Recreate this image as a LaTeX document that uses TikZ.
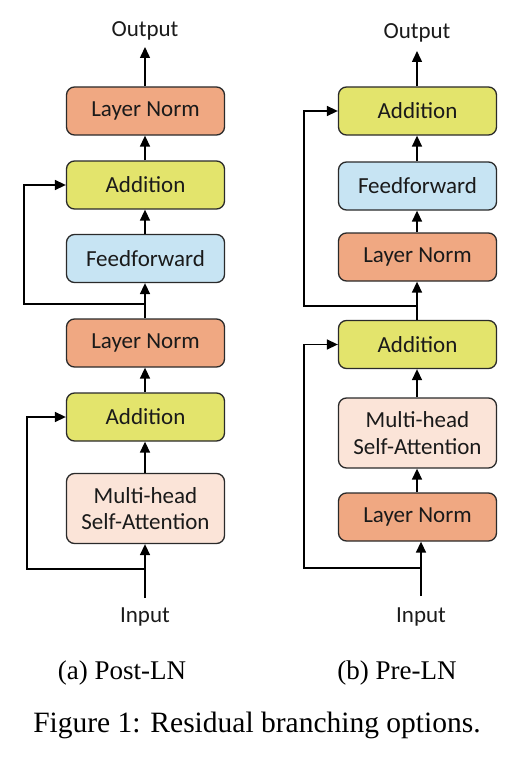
\documentclass[tikz,border=0pt]{standalone}
\usepackage{fontspec}
\setmainfont{Liberation Serif}
\newfontfamily\boxfont{Carlito}
\usetikzlibrary{arrows.meta}
\definecolor{lnorm}{HTML}{F0A882}
\definecolor{addc}{HTML}{E3E46C}
\definecolor{ffc}{HTML}{C7E4F3}
\definecolor{mhc}{HTML}{FBE4D8}
\definecolor{edgec}{HTML}{2A2A2A}
\definecolor{txtc}{HTML}{1A1A1A}
\tikzset{
  blk/.style={draw=edgec, line width=1.3pt, rounded corners=8pt, minimum width=158pt, minimum height=48pt, inner sep=0pt, align=center, font=\boxfont\fontsize{23}{26.5}\selectfont, text=txtc},
  lnbox/.style={blk, fill=lnorm},
  addbox/.style={blk, fill=addc},
  ffbox/.style={blk, fill=ffc},
  mhbox/.style={blk, fill=mhc, minimum height=70pt},
  lbl/.style={font=\boxfont\fontsize{23}{26}\selectfont, inner sep=0pt, text=txtc},
  captxt/.style={font=\fontsize{27}{30}\selectfont, inner sep=0pt},
  figtxt/.style={font=\fontsize{29.5}{32}\selectfont, inner sep=0pt},
  conn/.style={line width=1.5pt, -{Triangle[length=11pt,width=10pt]}},
}
\begin{document}
\begin{tikzpicture}[x=1pt,y=1pt]
\useasboundingbox (0,0) rectangle (528,-773);
% ---- Left: Post-LN ----
\node[lbl] (aout) at (145,-31) {Output};
\coordinate (aoutp) at (145,-47);
\node[lnbox] (aln1) at (145.5,-111) {Layer Norm};
\node[addbox] (aadd1) at (145.5,-185) {Addition};
\node[ffbox] (aff) at (145.5,-258.5) {Feedforward};
\node[lnbox] (aln2) at (145.5,-343) {Layer Norm};
\node[addbox] (aadd2) at (145.5,-417) {Addition};
\node[mhbox] (amh) at (145.5,-508.5) {Multi-head\\Self-Attention};
\node[lbl] (ain) at (145,-617) {Input};
\coordinate (ainp) at (145,-598);
\coordinate (abr1) at (145,-569);
\coordinate (aleft1) at (27,-569);
\coordinate (abr2) at (145,-304);
\coordinate (aleft2) at (24,-304);

\draw[conn] (ainp) -- (amh.south -| ainp);
\draw[conn] (amh.north -| ainp) -- (aadd2.south -| ainp);
\draw[conn] (aadd2.north -| ainp) -- (aln2.south -| ainp);
\draw[conn] (aln2.north -| ainp) -- (aff.south -| ainp);
\draw[conn] (aff.north -| ainp) -- (aadd1.south -| ainp);
\draw[conn] (aadd1.north -| ainp) -- (aln1.south -| ainp);
\draw[conn] (aln1.north -| ainp) -- (aoutp);
\draw[conn] (abr1) -- (aleft1) |- (aadd2.west);
\draw[conn] (abr2) -- (aleft2) |- (aadd1.west);

% ---- Right: Pre-LN ----
\node[lbl] (bout) at (417,-33) {Output};
\coordinate (boutp) at (417,-51);
\node[addbox] (badd1) at (417.5,-111) {Addition};
\node[ffbox] (bff) at (417.5,-186) {Feedforward};
\node[lnbox] (bln1) at (417.5,-257) {Layer Norm};
\node[addbox] (badd2) at (417.5,-344.5) {Addition};
\node[mhbox] (bmh) at (417.5,-433) {Multi-head\\Self-Attention};
\node[lnbox] (bln2) at (417.5,-517) {Layer Norm};
\node[lbl] (bin) at (421,-617) {Input};
\coordinate (binp) at (421,-596);
\coordinate (bbr1) at (421,-568);
\coordinate (bleft1) at (304,-568);
\coordinate (bline) at (417,0);
\coordinate (bbr2) at (417,-306);
\coordinate (bleft2) at (304,-306);

\draw[conn] (binp) -- (bln2.south -| binp);
\draw[conn] (bln2.north -| bline) -- (bmh.south -| bline);
\draw[conn] (bmh.north -| bline) -- (badd2.south -| bline);
\draw[conn] (badd2.north -| bline) -- (bln1.south -| bline);
\draw[conn] (bln1.north -| bline) -- (bff.south -| bline);
\draw[conn] (bff.north -| bline) -- (badd1.south -| bline);
\draw[conn] (badd1.north -| bline) -- (boutp);
\draw[conn] (bbr1) -- (bleft1) |- (badd2.west);
\draw[conn] (bbr2) -- (bleft2) |- (badd1.west);

% ---- Captions ----
\node[captxt] (capa) at (122,-673) {(a) Post-LN};
\node[captxt] (capb) at (397,-673) {(b) Pre-LN};
\node[figtxt] (capf) at (257,-725) {Figure 1: Residual branching options.};
\end{tikzpicture}
\end{document}
